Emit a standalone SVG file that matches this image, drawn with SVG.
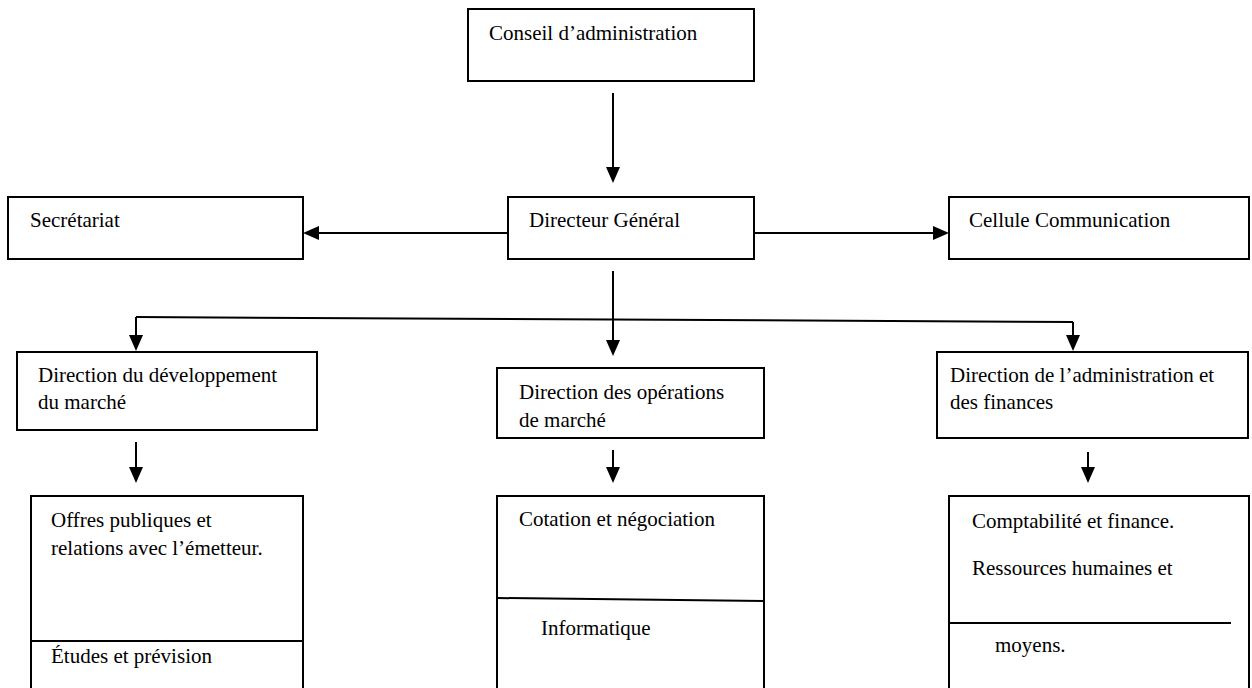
<svg xmlns="http://www.w3.org/2000/svg" width="1252" height="688" viewBox="0 0 1252 688">
<defs>
<style>
.box{fill:#fff;stroke:#000;stroke-width:2}
.div{stroke:#000;stroke-width:2;fill:none}
.t{font-family:"Liberation Serif","Times New Roman",serif;font-size:21px;fill:#000}
.c{stroke:#000;stroke-width:2;fill:none}
.a{stroke:#000;stroke-width:2;fill:none;marker-end:url(#ah)}
</style>
<marker id="ah" viewBox="0 0 16 14" refX="0" refY="7" markerWidth="16" markerHeight="14" markerUnits="userSpaceOnUse" orient="auto">
<path d="M0,0 L16,7 L0,14 z" fill="#000"/>
</marker>
</defs>
<rect width="1252" height="688" fill="#fff"/>
<g id="connectors">
<path class="a" d="M613,93 L613,167"/>
<path class="a" d="M508,233 L319,233"/>
<path class="a" d="M754,233 L933,233"/>
<path class="a" d="M613,271 L613,340"/>
<path class="c" d="M136,317 L1073,322"/>
<path class="a" d="M136,317 L136,335"/>
<path class="a" d="M1073,322 L1073,335"/>
<path class="a" d="M136,442 L136,467"/>
<path class="a" d="M613,450 L613,467"/>
<path class="a" d="M1088,452 L1088,467"/>
</g>
<g id="conseil">
<rect class="box" x="468" y="9" width="286" height="72"/>
<text class="t" x="489" y="40">Conseil d’administration</text>
</g>
<g id="secretariat">
<rect class="box" x="8" y="197" width="295" height="62"/>
<text class="t" x="30" y="227">Secrétariat</text>
</g>
<g id="dg">
<rect class="box" x="508" y="197" width="246" height="62"/>
<text class="t" x="529" y="227">Directeur Général</text>
</g>
<g id="cellule">
<rect class="box" x="949" y="197" width="300" height="62"/>
<text class="t" x="969" y="227">Cellule Communication</text>
</g>
<g id="ddm">
<rect class="box" x="17" y="352" width="300" height="78"/>
<text class="t" x="38" y="382">Direction du développement</text>
<text class="t" x="38" y="409">du marché</text>
</g>
<g id="dom">
<rect class="box" x="497" y="368" width="267" height="70"/>
<text class="t" x="519" y="399">Direction des opérations</text>
<text class="t" x="519" y="427">de marché</text>
</g>
<g id="daf">
<rect class="box" x="937" y="352" width="311" height="86"/>
<text class="t" x="950" y="382">Direction de l’administration et</text>
<text class="t" x="950" y="409">des finances</text>
</g>
<g id="offres">
<rect class="box" x="31" y="496" width="272" height="210"/>
<path class="div" d="M31,641 L303,641"/>
<text class="t" x="51" y="527">Offres publiques et</text>
<text class="t" x="51" y="555">relations avec l’émetteur.</text>
<text class="t" x="51" y="663">Études et prévision</text>
</g>
<g id="cotation">
<rect class="box" x="497" y="496" width="267" height="210"/>
<path class="div" d="M497,598 L764,601"/>
<text class="t" x="519" y="526">Cotation et négociation</text>
<text class="t" x="541" y="635">Informatique</text>
</g>
<g id="comptabilite">
<rect class="box" x="949" y="496" width="300" height="210"/>
<path class="div" d="M949,623 L1231,623"/>
<text class="t" x="972" y="528">Comptabilité et finance.</text>
<text class="t" x="972" y="575">Ressources humaines et</text>
<text class="t" x="995" y="652">moyens.</text>
</g>
</svg>
